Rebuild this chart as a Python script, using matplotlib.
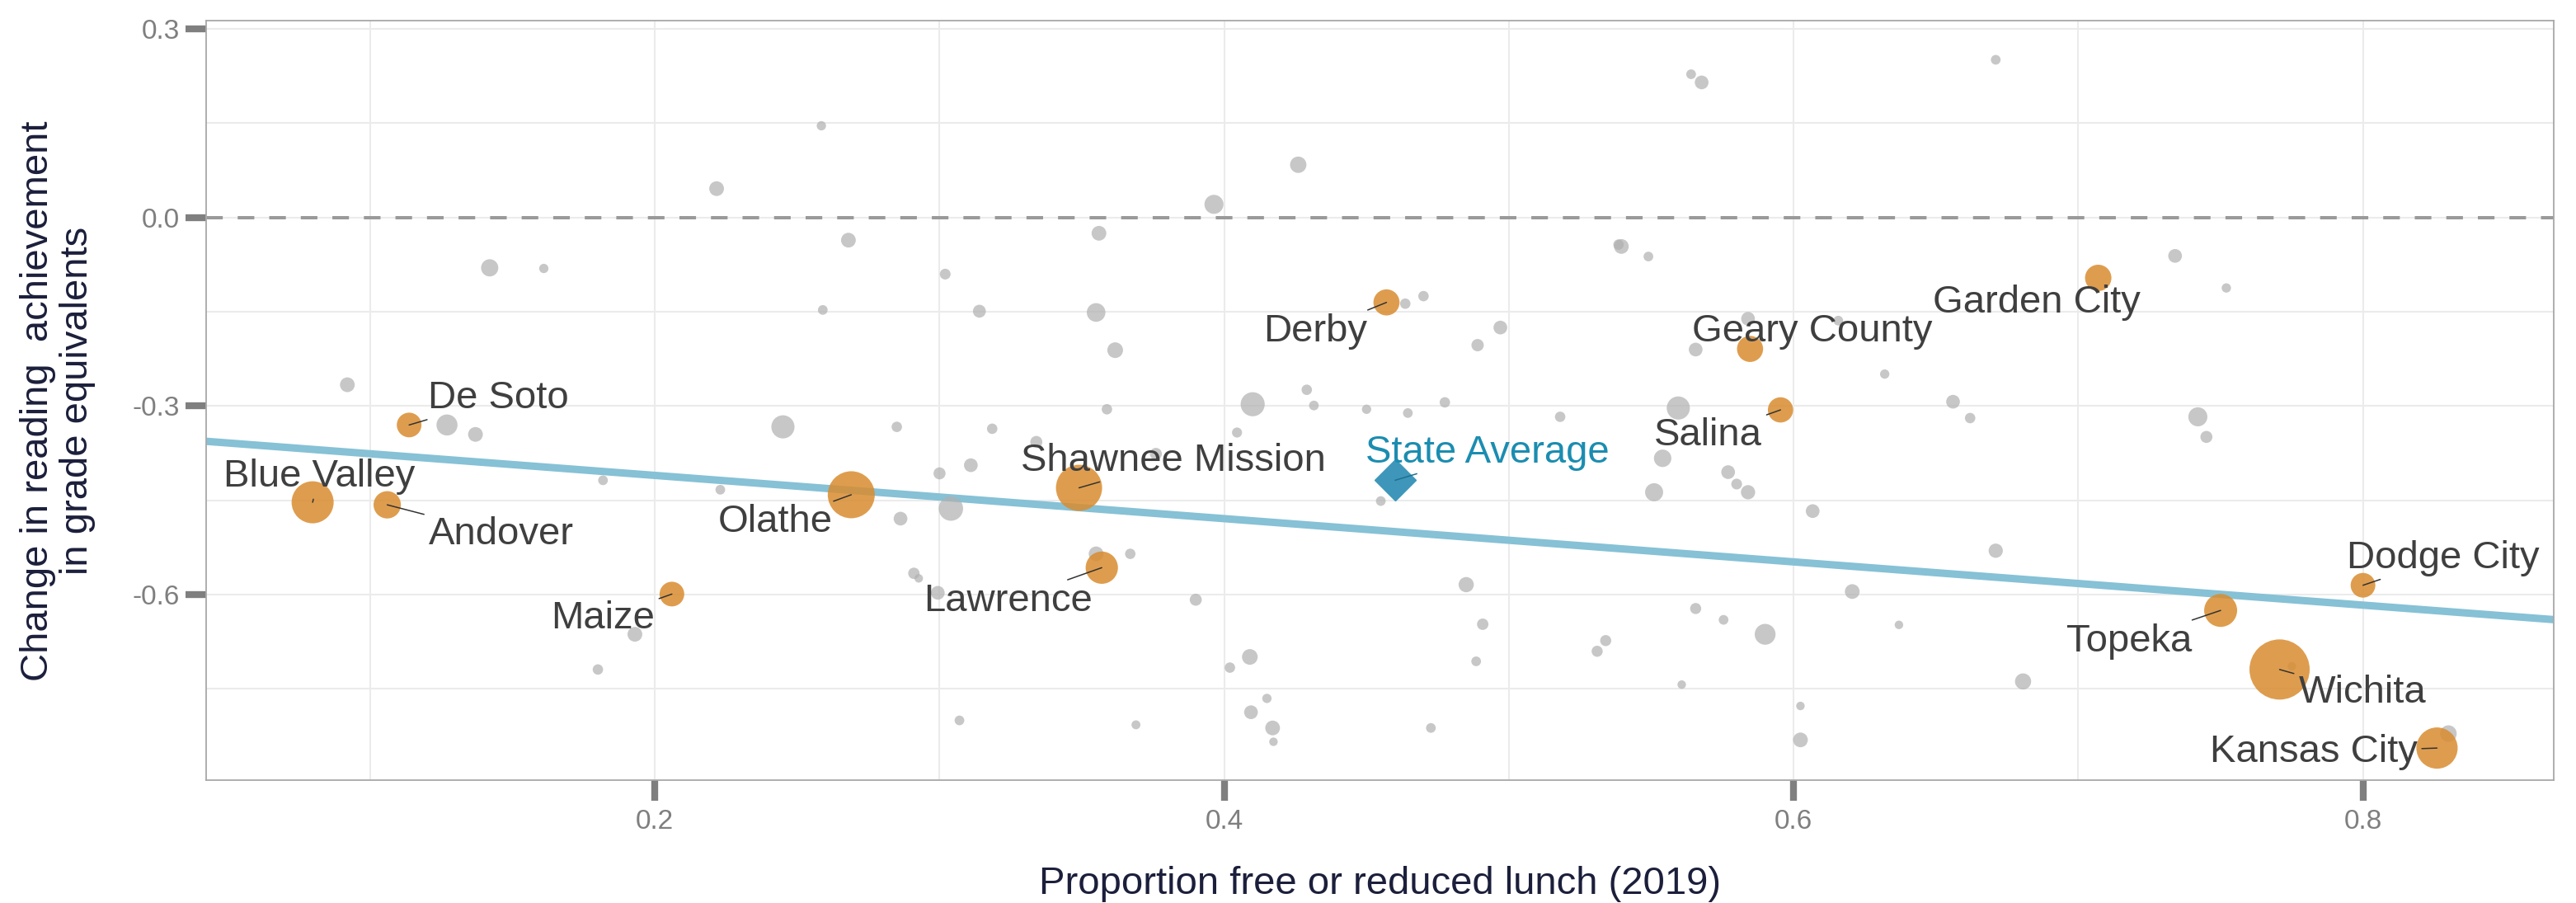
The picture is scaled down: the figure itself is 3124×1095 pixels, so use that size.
import numpy as np
import matplotlib
matplotlib.use("Agg")
import matplotlib.pyplot as plt
from matplotlib.ticker import FixedLocator

plt.rcParams['font.family'] = ['Liberation Sans', 'DejaVu Sans']

# ---------------- data ----------------
# Other (unlabelled) districts: free/reduced lunch share, change in reading, enrollment
grey_frl = [0.142, 0.161, 0.092, 0.127, 0.137, 0.2585, 0.2217, 0.426, 0.3964, 0.268,
            0.356, 0.302, 0.259, 0.314, 0.355, 0.3617, 0.429, 0.410, 0.4315, 0.3588,
            0.245, 0.285, 0.3185, 0.4045, 0.334, 0.376, 0.564, 0.5677, 0.5395, 0.5385,
            0.549, 0.4636, 0.470, 0.497, 0.489, 0.584, 0.6157, 0.5656, 0.632, 0.656,
            0.662, 0.5595, 0.518, 0.4775, 0.4645, 0.450, 0.554, 0.671, 0.734, 0.752,
            0.742, 0.745, 0.1818, 0.193, 0.180, 0.223, 0.300, 0.311, 0.2863, 0.304,
            0.355, 0.367, 0.291, 0.2927, 0.2994, 0.390, 0.409, 0.402, 0.415, 0.4094,
            0.417, 0.4173, 0.307, 0.369, 0.455, 0.551, 0.577, 0.580, 0.584, 0.6067,
            0.485, 0.4908, 0.4885, 0.4726, 0.534, 0.531, 0.5656, 0.5754, 0.590, 0.5607,
            0.6024, 0.6024, 0.6206, 0.637, 0.671, 0.6806, 0.775, 0.830]
grey_change = [-0.080, -0.081, -0.266, -0.330, -0.345, 0.146, 0.046, 0.084, 0.021, -0.036,
               -0.025, -0.090, -0.147, -0.149, -0.151, -0.211, -0.274, -0.297, -0.299, -0.305,
               -0.333, -0.333, -0.336, -0.342, -0.357, -0.376, 0.228, 0.215, -0.046, -0.043,
               -0.062, -0.137, -0.125, -0.175, -0.203, -0.161, -0.164, -0.210, -0.249, -0.293,
               -0.319, -0.303, -0.317, -0.294, -0.311, -0.305, -0.383, 0.251, -0.061, -0.112,
               -0.317, -0.349, -0.418, -0.663, -0.719, -0.433, -0.407, -0.394, -0.479, -0.463,
               -0.535, -0.535, -0.566, -0.574, -0.597, -0.608, -0.699, -0.716, -0.765, -0.787,
               -0.812, -0.834, -0.800, -0.807, -0.451, -0.437, -0.405, -0.424, -0.437, -0.467,
               -0.584, -0.647, -0.706, -0.812, -0.673, -0.690, -0.622, -0.640, -0.663, -0.743,
               -0.777, -0.831, -0.595, -0.648, -0.530, -0.738, -0.714, -0.821]
grey_enroll = [4100, 1200, 3000, 6100, 3000, 1200, 3000, 3700, 5000, 3000,
               3000, 1600, 1300, 2300, 4800, 3400, 1500, 8000, 1300, 1500,
               7400, 1500, 1500, 1400, 2000, 2000, 1300, 2600, 3000, 1500,
               1300, 1500, 1500, 2600, 2100, 2600, 1300, 2600, 1200, 2600,
               1500, 7400, 1500, 1500, 1300, 1200, 4200, 1300, 2600, 1200,
               5000, 2000, 1300, 3000, 1500, 1300, 2000, 2600, 2600, 8200,
               3000, 1500, 1800, 1000, 2600, 2000, 3400, 1500, 1200, 2600,
               3000, 1000, 1300, 1100, 1300, 4500, 2600, 1600, 2800, 2600,
               3200, 1800, 1300, 1300, 1700, 1700, 1700, 1300, 6000, 1000,
               1000, 3000, 3000, 1000, 2800, 3600, 1000, 3800]

# Highlighted districts
hl_names = ["Blue Valley", "Andover", "De Soto", "Maize", "Olathe", "Shawnee Mission",
            "Lawrence", "Derby", "Geary County", "Salina", "Garden City", "Dodge City",
            "Topeka", "Wichita", "Kansas City"]
hl_frl = [0.0798, 0.106, 0.1137, 0.206, 0.269, 0.349, 0.357, 0.457, 0.5847, 0.5954,
          0.707, 0.800, 0.750, 0.7707, 0.826]
hl_change = [-0.453, -0.457, -0.330, -0.599, -0.441, -0.430, -0.557, -0.135, -0.209, -0.306,
             -0.096, -0.585, -0.625, -0.719, -0.844]
hl_enroll = [24400, 10300, 8400, 8400, 30500, 29400, 14400, 9400, 9400, 8800,
             9600, 8400, 15000, 50000, 23500]

# State average
state_name = "State Average"
state_frl = 0.460
state_change = -0.418

# Fitted trend line (intercept, slope)
trend_intercept = -0.3414
trend_slope = -0.344

x_ticks = [0.2, 0.4, 0.6, 0.8]
x_minor = [0.1, 0.3, 0.5, 0.7]
y_ticks = [0.3, 0.0, -0.3, -0.6]
y_minor = [0.15, -0.15, -0.45, -0.75]

x_title = "Proportion free or reduced lunch (2019)"
y_title_1 = "Change in reading  achievement"
y_title_2 = "in grade equivalents"

# ---------------- layout (label placement) ----------------
label_pos = {
    "De Soto": (0.145, -0.288, True),
    "Blue Valley": (0.082, -0.412, True),
    "Andover": (0.146, -0.504, True),
    "Maize": (0.1817, -0.638, True),
    "Olathe": (0.2423, -0.485, True),
    "Shawnee Mission": (0.382, -0.387, True),
    "Lawrence": (0.324, -0.610, True),
    "Derby": (0.432, -0.181, True),
    "Geary County": (0.6065, -0.181, False),
    "Salina": (0.570, -0.347, True),
    "Garden City": (0.6855, -0.135, False),
    "Dodge City": (0.828, -0.542, True),
    "Topeka": (0.718, -0.674, True),
    "Wichita": (0.7997, -0.756, True),
    "Kansas City": (0.7826, -0.851, True),
}
state_label_pos = (0.4923, -0.374)

SIZE_K = 0.05525  # pt^2 per student

W, H, DPI = 3124, 1095, 100
fig = plt.figure(figsize=(W / DPI, H / DPI), dpi=DPI)
ax = fig.add_axes([250 / W, 1 - 946 / H, (3097 - 250) / W, (946 - 25) / H])

ax.set_xlim(0.0424, 0.867)
ax.set_ylim(-0.895, 0.3133)

# grid
ax.xaxis.set_major_locator(FixedLocator(x_ticks))
ax.xaxis.set_minor_locator(FixedLocator(x_minor))
ax.yaxis.set_major_locator(FixedLocator(y_ticks))
ax.yaxis.set_minor_locator(FixedLocator(y_minor))
ax.grid(True, which='both', color='#ebebeb', lw=1.5, zorder=0)
ax.set_axisbelow(True)

ax.set_xticklabels([f"{v:.1f}" for v in x_ticks])
ax.set_yticklabels([f"{v:.1f}" for v in y_ticks])
ax.tick_params(axis='both', which='major', length=18, width=6, color='#7f7f7f',
               labelcolor='#7f7f7f', labelsize=24)
ax.tick_params(axis='x', which='major', pad=7)
ax.tick_params(axis='y', which='major', pad=5)
ax.tick_params(axis='both', which='minor', length=0)

for sp in ax.spines.values():
    sp.set_color('#a8a8a8')
    sp.set_linewidth(1.3)

# zero reference
ax.axhline(0, color='#9a9a9a', lw=2.9, dashes=(5, 4.5), zorder=1)

# trend line
ax.axline((0, trend_intercept), slope=trend_slope, color='#86c1d6', lw=6.5, zorder=2,
          solid_capstyle='butt')

# points
ax.scatter(grey_frl, grey_change, s=np.array(grey_enroll) * SIZE_K, color='#b0b0b0',
           alpha=0.7, linewidths=0, zorder=3)
ax.scatter(hl_frl, hl_change, s=np.array(hl_enroll) * SIZE_K, color='#d98c2f',
           alpha=0.85, linewidths=0, zorder=4)
ax.plot([state_frl], [state_change], marker='D', markersize=25, color='#3e97ba',
        linestyle='none', zorder=5)

# labels
for name, px, py in zip(hl_names, hl_frl, hl_change):
    lx, ly, seg = label_pos[name]
    if seg:
        ax.annotate(name, xy=(px, py), xytext=(lx, ly), ha='center', va='center',
                    fontsize=34, color='#3f3f3f', zorder=6,
                    arrowprops=dict(arrowstyle='-', color='#333333', lw=1.1,
                                    shrinkA=2, shrinkB=0))
    else:
        ax.text(lx, ly, name, ha='center', va='center', fontsize=34, color='#3f3f3f',
                zorder=6)

ax.annotate(state_name, xy=(state_frl, state_change), xytext=state_label_pos,
            ha='center', va='center', fontsize=34, color='#1b8db0', zorder=6,
            arrowprops=dict(arrowstyle='-', color='#1f6f8f', lw=1.1, shrinkA=2, shrinkB=0))

# axis titles
fig.text(1674 / W, 1 - 1072 / H, x_title, ha='center', va='center', fontsize=34,
         color='#1b1f3b')
fig.text(46 / W, 1 - 486 / H, y_title_1, ha='center', va='center', rotation=90,
         fontsize=34, color='#1b1f3b')
fig.text(94 / W, 1 - 486 / H, y_title_2, ha='center', va='center', rotation=90,
         fontsize=34, color='#1b1f3b')

fig.savefig("out.png", dpi=DPI, facecolor='white')
